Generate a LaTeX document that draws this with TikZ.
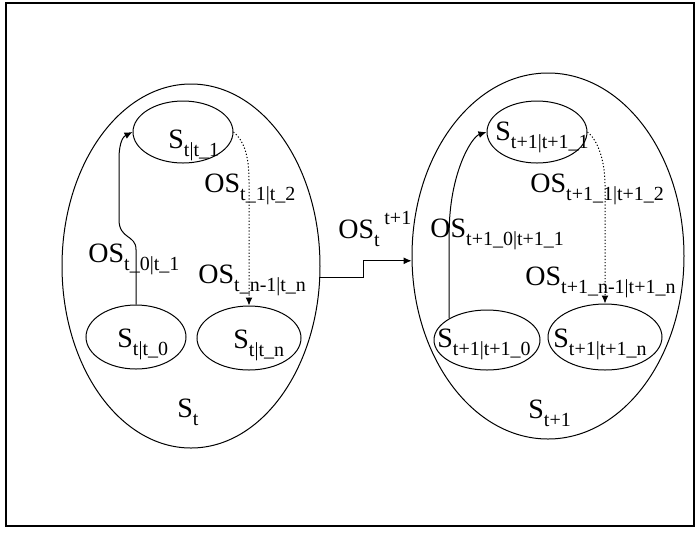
\documentclass[tikz,border=0pt]{standalone}
\usepackage{fontspec}
\setmainfont{Liberation Serif}
\usetikzlibrary{shapes.geometric,arrows.meta,positioning}
\newcommand{\lowtx}[1]{\raisebox{-4pt}{\fontsize{10}{10}\selectfont #1}}
\newcommand{\hightx}[1]{\raisebox{7pt}{\fontsize{10}{10}\selectfont #1}}

\begin{document}
\begin{tikzpicture}[
  x=0.5pt, y=-0.5pt,
  font=\fontsize{14}{16}\selectfont,
  outer/.style={ellipse, draw, line width=0.5pt, inner sep=0pt},
  state/.style={ellipse, draw, line width=0.5pt, inner sep=0pt},
  lbl/.style={anchor=base west, inner sep=0pt},
  arr/.style={-{Latex[length=4pt,width=3.5pt]}, line width=0.5pt},
  dotarr/.style={arr, dash pattern=on 0.6pt off 1pt},
]
  \useasboundingbox (0,0) rectangle (697,532);
  \draw[line width=1.2pt] (6,3) rectangle (694,526);

  % time step t
  \node[outer, minimum width=129pt, minimum height=182pt] (St) at (191,266) {};
  \node[state, minimum width=50pt, minimum height=31pt] (t1) at (183,132) {};
  \node[state, minimum width=50pt, minimum height=32pt] (t0) at (136,337) {};
  \node[state, minimum width=52pt, minimum height=32pt] (tn) at (249,338) {};

  \node[lbl] (t1lbl) at (168,148) {S\lowtx{t|t\_1}};
  \node[lbl] (t0lbl) at (117,347) {S\lowtx{t|t\_0}};
  \node[lbl] (tnlbl) at (233,348) {S\lowtx{t|t\_n}};
  \node[lbl] (Stlbl) at (177,417) {S\lowtx{t}};
  \node[lbl] (os01) at (88,262) {OS\lowtx{t\_0|t\_1}};
  \node[lbl] (os12) at (204,192) {OS\lowtx{t\_1|t\_2}};
  \node[lbl] (osn) at (198,283) {OS\lowtx{t\_n-1|t\_n}};

  % time step t+1
  \node[outer, minimum width=136pt, minimum height=183pt] (St1) at (548,256) {};
  \node[state, minimum width=50pt, minimum height=31pt] (r1) at (537,132) {};
  \node[state, minimum width=53pt, minimum height=30pt] (r0) at (487,340) {};
  \node[state, minimum width=57pt, minimum height=33pt] (rn) at (605,337) {};

  \node[lbl] (r1lbl) at (495,140) {S\lowtx{t+1|t+1\_1}};
  \node[lbl] (r0lbl) at (437,347) {S\lowtx{t+1|t+1\_0}};
  \node[lbl] (rnlbl) at (553,347) {S\lowtx{t+1|t+1\_n}};
  \node[lbl] (St1lbl) at (528,418) {S\lowtx{t+1}};
  \node[lbl] (ros01) at (430,237) {OS\lowtx{t+1\_0|t+1\_1}};
  \node[lbl] (ros12) at (530,192) {OS\lowtx{t+1\_1|t+1\_2}};
  \node[lbl] (rosn) at (525,285) {OS\lowtx{t+1\_n-1|t+1\_n}};

  \node[lbl] (trans) at (338,238) {OS\lowtx{t}\,\hightx{t+1}};

  % transitions
  \draw[arr] (t0.north) -- ++(0,-55) .. controls +(0,-15) and +(0,20) .. ++(-17,-30)
    -- ++(0,-60) .. controls +(0,-20) and +(-8,4) .. (t1.west);
  \draw[dotarr] (t1.east) .. controls +(10,8) and +(0,-25) .. (tn.north |- {(0,180)}) -- (tn.north);

  \draw[arr] (r0.north west) -- ++(0,-85) .. controls +(0,-60) and +(-15,5) .. (r1.west);
  \draw[dotarr] (r1.east) .. controls +(10,8) and +(0,-25) .. (rn.north |- {(0,185)}) -- (rn.north);

  \draw[arr] (St.-5) -- ++(43,0) |- (St1.182);
\end{tikzpicture}
\end{document}
